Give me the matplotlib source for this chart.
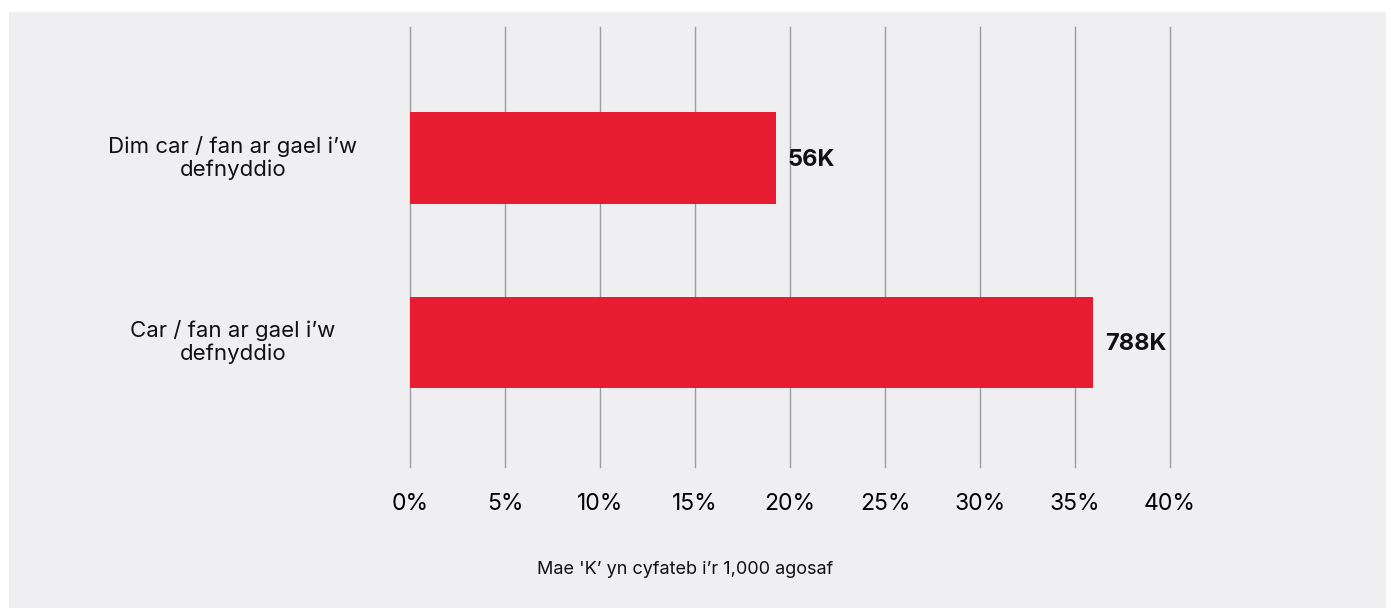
import matplotlib
matplotlib.use("Agg")
import matplotlib.pyplot as plt
from matplotlib.patches import Rectangle
from matplotlib.transforms import blended_transform_factory

plt.rcParams['font.family'] = ['Inter', 'DejaVu Sans']

categories = ["Car / fan ar gael i\u2019w\ndefnyddio", "Dim car / fan ar gael i\u2019w\ndefnyddio"]
values = [35.95, 19.25]
value_labels = ["788K", "56K"]
xticks = [0, 5, 10, 15, 20, 25, 30, 35, 40]
xtick_labels = [f"{t}%" for t in xticks]
footnote = "Mae 'K\u2019 yn cyfateb i\u2019r 1,000 agosaf"

W, H = 1391, 608
fig = plt.figure(figsize=(W / 100, H / 100), dpi=100, facecolor="white")
bg = "#efeff1"
fig.patches.append(Rectangle((9 / W, 0), (1386 - 9) / W, (H - 12) / H,
                             transform=fig.transFigure, facecolor=bg,
                             edgecolor="none", zorder=-10))

ax = fig.add_axes([410 / W, 1 - 467 / H, (1170 - 410) / W, (467 - 27) / H])
ax.set_facecolor("none")
ypos = list(range(len(categories)))
ax.barh(ypos, values, height=0.495, color="#e81c30", zorder=3)
ax.set_xlim(0, 40)
ax.set_ylim(-0.679, 1.712)
ax.set_xticks(xticks)
ax.set_xticklabels(xtick_labels, fontsize=16.5)
ax.tick_params(axis="x", length=0, pad=19)
ax.set_yticks([])
for s in ax.spines.values():
    s.set_visible(False)
ax.grid(axis="x", color="#9b9ba2", linewidth=1.0, zorder=0)
for gl in ax.get_xgridlines():
    gl.set_clip_on(False)
ax.set_axisbelow(True)

for y, v, lab in zip(ypos, values, value_labels):
    ax.annotate(lab, (v, y), xytext=(12, -2), textcoords="offset pixels",
                ha="left", va="center", fontsize=17, fontweight="bold",
                color="#111111")

tr = blended_transform_factory(fig.transFigure, ax.transData)
for y, cat in zip(ypos, categories):
    ax.text(233 / W, y, cat, transform=tr,
            ha="center", va="center", multialignment="center", fontsize=16,
            color="#111111", linespacing=1.15)

fig.text(685 / W, 1 - 570 / H, footnote, ha="center", va="center",
         fontsize=13, color="#111111")

fig.savefig("out.png", dpi=100, facecolor="white")
